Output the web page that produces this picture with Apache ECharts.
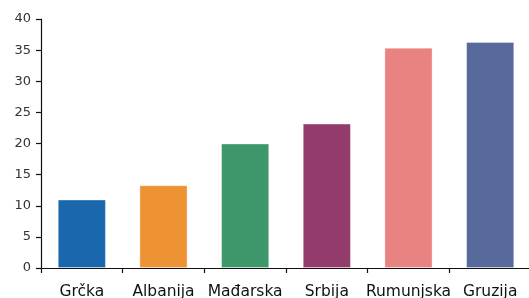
<!DOCTYPE html>
<html>
<head>
<meta charset="utf-8">
<script src="https://cdn.jsdelivr.net/npm/echarts@6/dist/echarts.min.js"></script>
<style>
html,body{margin:0;padding:0;background:#fff;}
#c{width:529px;height:298px;}
</style>
</head>
<body>
<div id="c"></div>
<script>
const categories = ['Grčka', 'Albanija', 'Mađarska', 'Srbija', 'Rumunjska', 'Gruzija'];
const values = [11.0, 13.3, 20.0, 23.2, 35.4, 36.3];
const yTicks = [0, 5, 10, 15, 20, 25, 30, 35, 40];

const palette = ['#1b67ae', '#ee9334', '#3d976a', '#933c6b', '#e88381', '#57699b'];

const chart = echarts.init(document.getElementById('c'), null, {renderer: 'canvas'});
chart.setOption({
  animation: false,
  backgroundColor: '#ffffff',
  grid: {left: 41, right: -2, top: 19, bottom: 30, containLabel: false, outerBoundsMode: 'none'},
  xAxis: {
    type: 'category',
    data: categories,
    axisLine: {show: true, lineStyle: {color: '#111', width: 1.2}},
    axisTick: {show: true, length: 5, lineStyle: {color: '#111', width: 1.2}},
    axisLabel: {fontFamily: 'DejaVu Sans', fontSize: 15.5, color: '#111', margin: 16, interval: 0}
  },
  yAxis: {
    type: 'value',
    min: yTicks[0],
    max: yTicks[yTicks.length - 1],
    interval: yTicks[1] - yTicks[0],
    axisLine: {show: true, lineStyle: {color: '#111', width: 1.2}},
    axisTick: {show: true, length: 5, lineStyle: {color: '#111', width: 1.2}},
    splitLine: {show: false},
    axisLabel: {fontFamily: 'DejaVu Sans', fontSize: 13, color: '#333', margin: 10}
  },
  series: [{
    type: 'bar',
    barWidth: '59%',
    data: values.map((v, i) => ({
      value: v,
      itemStyle: {color: palette[i], borderColor: 'rgba(255,255,255,0.35)', borderWidth: 1}
    }))
  }]
});
</script>
</body>
</html>
